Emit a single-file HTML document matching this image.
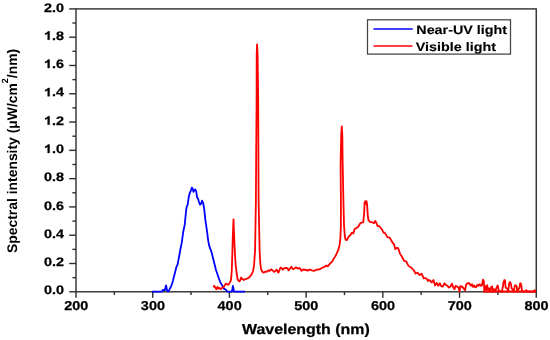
<!DOCTYPE html>
<html><head><meta charset="utf-8"><style>
html,body{margin:0;padding:0;background:#fff;width:550px;height:340px;overflow:hidden}
svg{display:block;will-change:transform}
text{font-family:"Liberation Sans",sans-serif;font-weight:bold;fill:#000;stroke:#000;stroke-width:0.25px;text-rendering:geometricPrecision}
.tl{font-size:12.8px}
.yl{font-size:12.3px}
.xt{font-size:14.4px}
.yt{font-size:13.9px;stroke-width:0}
.lg{font-size:12.3px;stroke-width:0.12px}
</style></head><body>
<svg width="550" height="340" viewBox="0 0 550 340">
<rect x="76.0" y="8.9" width="460.25" height="282.90000000000003" fill="none" stroke="#2e2e2e" stroke-width="1.4"/>
<line x1="76.00" y1="291.8" x2="76.00" y2="297.8" stroke="#2e2e2e" stroke-width="1.4"/>
<line x1="114.35" y1="291.8" x2="114.35" y2="295.1" stroke="#2e2e2e" stroke-width="1.4"/>
<line x1="152.71" y1="291.8" x2="152.71" y2="297.8" stroke="#2e2e2e" stroke-width="1.4"/>
<line x1="191.06" y1="291.8" x2="191.06" y2="295.1" stroke="#2e2e2e" stroke-width="1.4"/>
<line x1="229.42" y1="291.8" x2="229.42" y2="297.8" stroke="#2e2e2e" stroke-width="1.4"/>
<line x1="267.77" y1="291.8" x2="267.77" y2="295.1" stroke="#2e2e2e" stroke-width="1.4"/>
<line x1="306.12" y1="291.8" x2="306.12" y2="297.8" stroke="#2e2e2e" stroke-width="1.4"/>
<line x1="344.48" y1="291.8" x2="344.48" y2="295.1" stroke="#2e2e2e" stroke-width="1.4"/>
<line x1="382.83" y1="291.8" x2="382.83" y2="297.8" stroke="#2e2e2e" stroke-width="1.4"/>
<line x1="421.19" y1="291.8" x2="421.19" y2="295.1" stroke="#2e2e2e" stroke-width="1.4"/>
<line x1="459.54" y1="291.8" x2="459.54" y2="297.8" stroke="#2e2e2e" stroke-width="1.4"/>
<line x1="497.90" y1="291.8" x2="497.90" y2="295.1" stroke="#2e2e2e" stroke-width="1.4"/>
<line x1="536.25" y1="291.8" x2="536.25" y2="297.8" stroke="#2e2e2e" stroke-width="1.4"/>
<line x1="76.0" y1="291.80" x2="69.2" y2="291.80" stroke="#2e2e2e" stroke-width="1.4"/>
<line x1="76.0" y1="277.66" x2="72.4" y2="277.66" stroke="#2e2e2e" stroke-width="1.4"/>
<line x1="76.0" y1="263.51" x2="69.2" y2="263.51" stroke="#2e2e2e" stroke-width="1.4"/>
<line x1="76.0" y1="249.37" x2="72.4" y2="249.37" stroke="#2e2e2e" stroke-width="1.4"/>
<line x1="76.0" y1="235.22" x2="69.2" y2="235.22" stroke="#2e2e2e" stroke-width="1.4"/>
<line x1="76.0" y1="221.07" x2="72.4" y2="221.07" stroke="#2e2e2e" stroke-width="1.4"/>
<line x1="76.0" y1="206.93" x2="69.2" y2="206.93" stroke="#2e2e2e" stroke-width="1.4"/>
<line x1="76.0" y1="192.78" x2="72.4" y2="192.78" stroke="#2e2e2e" stroke-width="1.4"/>
<line x1="76.0" y1="178.64" x2="69.2" y2="178.64" stroke="#2e2e2e" stroke-width="1.4"/>
<line x1="76.0" y1="164.50" x2="72.4" y2="164.50" stroke="#2e2e2e" stroke-width="1.4"/>
<line x1="76.0" y1="150.35" x2="69.2" y2="150.35" stroke="#2e2e2e" stroke-width="1.4"/>
<line x1="76.0" y1="136.20" x2="72.4" y2="136.20" stroke="#2e2e2e" stroke-width="1.4"/>
<line x1="76.0" y1="122.06" x2="69.2" y2="122.06" stroke="#2e2e2e" stroke-width="1.4"/>
<line x1="76.0" y1="107.91" x2="72.4" y2="107.91" stroke="#2e2e2e" stroke-width="1.4"/>
<line x1="76.0" y1="93.77" x2="69.2" y2="93.77" stroke="#2e2e2e" stroke-width="1.4"/>
<line x1="76.0" y1="79.62" x2="72.4" y2="79.62" stroke="#2e2e2e" stroke-width="1.4"/>
<line x1="76.0" y1="65.48" x2="69.2" y2="65.48" stroke="#2e2e2e" stroke-width="1.4"/>
<line x1="76.0" y1="51.33" x2="72.4" y2="51.33" stroke="#2e2e2e" stroke-width="1.4"/>
<line x1="76.0" y1="37.19" x2="69.2" y2="37.19" stroke="#2e2e2e" stroke-width="1.4"/>
<line x1="76.0" y1="23.04" x2="72.4" y2="23.04" stroke="#2e2e2e" stroke-width="1.4"/>
<line x1="76.0" y1="8.90" x2="69.2" y2="8.90" stroke="#2e2e2e" stroke-width="1.4"/>
<text x="0" y="0" transform="translate(76.20,310.3) scale(1.13,1)" text-anchor="middle" class="tl">200</text>
<text x="0" y="0" transform="translate(152.91,310.3) scale(1.13,1)" text-anchor="middle" class="tl">300</text>
<text x="0" y="0" transform="translate(229.62,310.3) scale(1.13,1)" text-anchor="middle" class="tl">400</text>
<text x="0" y="0" transform="translate(306.32,310.3) scale(1.13,1)" text-anchor="middle" class="tl">500</text>
<text x="0" y="0" transform="translate(383.03,310.3) scale(1.13,1)" text-anchor="middle" class="tl">600</text>
<text x="0" y="0" transform="translate(459.74,310.3) scale(1.13,1)" text-anchor="middle" class="tl">700</text>
<text x="0" y="0" transform="translate(536.45,310.3) scale(1.13,1)" text-anchor="middle" class="tl">800</text>
<text x="0" y="0" transform="translate(64.0,294.40) scale(1.17,1)" text-anchor="end" class="yl">0.0</text>
<text x="0" y="0" transform="translate(64.0,266.11) scale(1.17,1)" text-anchor="end" class="yl">0.2</text>
<text x="0" y="0" transform="translate(64.0,237.82) scale(1.17,1)" text-anchor="end" class="yl">0.4</text>
<text x="0" y="0" transform="translate(64.0,209.53) scale(1.17,1)" text-anchor="end" class="yl">0.6</text>
<text x="0" y="0" transform="translate(64.0,181.24) scale(1.17,1)" text-anchor="end" class="yl">0.8</text>
<text x="0" y="0" transform="translate(64.0,152.95) scale(1.17,1)" text-anchor="end" class="yl">.0</text>
<path d="M759 0L478 0L478 1030C420 975 340 925 255 885C200 858 150 838 115 828L115 1075C210 1105 300 1160 380 1230C450 1290 500 1350 530 1409L759 1409Z" transform="translate(44.29,152.95) scale(0.007027,-0.006006)" fill="#000" stroke="#000" stroke-width="0.3" vector-effect="non-scaling-stroke"/>
<text x="0" y="0" transform="translate(64.0,124.66) scale(1.17,1)" text-anchor="end" class="yl">.2</text>
<path d="M759 0L478 0L478 1030C420 975 340 925 255 885C200 858 150 838 115 828L115 1075C210 1105 300 1160 380 1230C450 1290 500 1350 530 1409L759 1409Z" transform="translate(44.29,124.66) scale(0.007027,-0.006006)" fill="#000" stroke="#000" stroke-width="0.3" vector-effect="non-scaling-stroke"/>
<text x="0" y="0" transform="translate(64.0,96.37) scale(1.17,1)" text-anchor="end" class="yl">.4</text>
<path d="M759 0L478 0L478 1030C420 975 340 925 255 885C200 858 150 838 115 828L115 1075C210 1105 300 1160 380 1230C450 1290 500 1350 530 1409L759 1409Z" transform="translate(44.29,96.37) scale(0.007027,-0.006006)" fill="#000" stroke="#000" stroke-width="0.3" vector-effect="non-scaling-stroke"/>
<text x="0" y="0" transform="translate(64.0,68.08) scale(1.17,1)" text-anchor="end" class="yl">.6</text>
<path d="M759 0L478 0L478 1030C420 975 340 925 255 885C200 858 150 838 115 828L115 1075C210 1105 300 1160 380 1230C450 1290 500 1350 530 1409L759 1409Z" transform="translate(44.29,68.08) scale(0.007027,-0.006006)" fill="#000" stroke="#000" stroke-width="0.3" vector-effect="non-scaling-stroke"/>
<text x="0" y="0" transform="translate(64.0,39.79) scale(1.17,1)" text-anchor="end" class="yl">.8</text>
<path d="M759 0L478 0L478 1030C420 975 340 925 255 885C200 858 150 838 115 828L115 1075C210 1105 300 1160 380 1230C450 1290 500 1350 530 1409L759 1409Z" transform="translate(44.29,39.79) scale(0.007027,-0.006006)" fill="#000" stroke="#000" stroke-width="0.3" vector-effect="non-scaling-stroke"/>
<text x="0" y="0" transform="translate(64.0,11.50) scale(1.17,1)" text-anchor="end" class="yl">2.0</text>
<text x="0" y="0" transform="translate(305.9,334.3) scale(1.107,1)" text-anchor="middle" class="xt">Wavelength (nm)</text>
<text x="0" y="0" transform="translate(16.6,150.9) rotate(-90)" text-anchor="middle" class="yt">Spectral intensity (&#956;W/cm<tspan dy="-8.8" font-size="9">2</tspan><tspan dy="8.8">/nm)</tspan></text>
<polyline points="152.10,291.60 161.90,291.60 163.00,289.80 164.80,290.20 166.10,285.30 167.00,290.20 168.10,291.60 169.40,289.70 171.20,286.20 172.90,280.90 174.70,273.80 176.50,266.80 177.60,264.40 179.40,255.00 180.60,248.20 181.80,242.40 183.20,232.00 184.70,224.70 186.20,210.00 186.70,206.80 187.70,204.70 188.80,196.50 189.80,192.90 190.80,190.80 191.80,187.70 192.60,188.20 193.40,191.80 194.40,190.30 195.40,189.50 196.30,191.80 197.00,197.00 198.00,198.50 199.00,202.10 200.10,204.70 201.10,203.70 202.10,200.60 203.20,203.20 204.20,208.80 205.30,219.40 206.50,227.60 207.30,233.50 208.20,240.60 209.20,245.90 210.60,249.50 211.60,252.40 213.80,261.20 216.00,270.00 218.40,277.00 220.40,282.50 222.30,285.60 223.80,288.60 225.60,289.50 227.10,291.60 229.30,291.60 231.80,291.60 232.40,289.00 232.90,286.00 233.50,289.00 234.00,291.60 245.00,291.60" fill="none" stroke="#0000ff" stroke-width="1.8" stroke-linejoin="round"/>
<line x1="483.5" y1="291.4" x2="536" y2="291.4" stroke="#ff0000" stroke-width="2"/>
<polyline points="213.50,287.30 214.20,285.80 215.30,287.60 216.40,289.20 217.50,286.90 218.60,288.80 219.70,288.00 220.80,289.10 221.90,288.00 223.00,287.60 224.10,286.50 225.20,284.30 226.30,283.60 227.40,284.70 228.50,284.70 229.60,282.90 230.70,281.00 231.30,277.00 231.80,270.00 232.20,258.00 232.70,240.00 233.50,219.30 234.30,240.00 235.00,255.00 235.60,264.00 236.60,273.00 237.70,279.60 239.30,281.40 240.30,280.10 241.10,277.50 242.40,279.10 243.90,280.10 245.40,279.10 247.50,278.50 249.60,277.00 251.60,274.40 252.90,271.50 254.10,265.30 255.10,250.00 255.90,200.00 256.20,150.00 256.60,100.00 256.70,55.00 257.05,44.30 257.60,55.00 258.20,100.00 258.40,150.00 258.60,200.00 259.60,250.00 260.20,262.00 260.90,268.50 261.60,270.50 262.40,271.90 263.80,272.60 265.30,271.50 266.80,271.90 268.20,270.40 269.70,270.80 271.20,269.30 272.60,270.40 274.10,271.90 275.60,270.80 276.70,269.70 277.80,271.90 278.50,272.60 279.60,269.70 280.70,267.50 281.80,268.20 282.90,269.70 284.40,268.20 285.90,267.90 287.40,268.20 288.80,270.40 289.90,268.60 291.40,266.80 292.50,268.60 293.60,269.10 295.90,267.30 298.20,268.60 300.00,268.20 301.40,270.90 303.20,269.50 305.90,270.00 308.20,270.50 309.50,269.50 311.80,270.30 314.10,270.90 316.40,269.70 319.10,269.50 320.90,268.60 322.70,267.50 324.50,266.80 326.40,265.50 327.70,266.40 330.00,263.60 332.30,261.40 333.50,259.10 336.20,254.70 338.50,249.40 339.60,245.00 340.40,238.00 340.90,225.00 340.90,200.00 340.60,165.00 341.20,135.00 341.75,126.30 342.30,135.00 342.70,165.00 343.40,200.00 344.00,225.00 344.80,236.00 345.60,239.70 346.90,240.10 348.50,237.00 349.50,235.60 350.30,235.30 352.00,232.60 353.30,233.50 354.70,229.10 356.50,227.90 358.20,226.80 360.30,223.20 361.50,222.60 363.20,222.30 364.20,212.60 364.60,202.40 365.40,201.20 365.90,203.80 366.50,201.20 367.10,204.40 367.70,215.00 368.50,220.30 370.00,221.80 372.40,222.30 374.10,223.20 375.30,220.90 376.50,223.20 377.60,226.20 379.40,226.20 381.20,228.50 382.40,230.30 383.50,232.60 384.70,232.60 386.50,235.60 387.60,237.40 389.40,237.40 391.20,240.30 392.90,243.20 394.10,244.40 395.30,249.20 396.50,247.90 398.20,248.20 400.00,253.60 402.10,257.00 404.10,260.80 406.20,261.30 408.20,265.30 409.30,266.50 411.30,267.50 413.00,269.50 414.40,271.10 415.50,273.50 417.50,272.70 419.60,275.10 421.60,273.70 423.70,278.40 425.30,278.00 426.80,279.00 428.00,281.00 429.10,279.90 430.20,280.70 431.70,282.50 433.50,279.90 435.00,285.40 436.80,282.90 438.30,285.80 439.80,283.20 441.20,286.20 442.70,286.50 444.50,283.20 446.00,285.10 447.50,285.80 449.00,287.60 450.40,286.50 451.90,283.60 453.40,287.60 454.50,289.10 455.60,285.80 457.00,286.50 458.50,287.60 459.60,291.60 460.40,286.20 461.80,286.50 463.30,288.00 465.10,290.40 466.10,284.70 467.20,283.60 468.70,282.90 469.80,284.00 470.90,285.80 472.00,284.30 473.10,286.90 474.20,285.40 475.30,287.30 476.40,286.90 477.50,284.70 478.60,285.80 479.70,284.30 480.80,285.80 481.90,285.40 483.00,279.60 483.80,281.00 484.30,291.60 485.20,286.20 486.30,289.90 487.10,285.10 488.20,289.90 489.30,288.40 490.00,291.60 491.10,287.30 492.20,286.50 492.90,291.60 494.00,289.10 495.10,291.60 496.30,288.40 497.70,285.40 498.80,290.60 500.30,291.60 501.80,291.60 502.90,286.50 503.60,282.00 504.40,280.00 505.00,280.50 505.60,287.50 506.60,288.40 507.50,288.70 508.20,291.60 509.10,283.60 510.10,282.00 511.00,284.30 511.70,288.70 512.60,289.00 513.60,291.60 514.90,285.60 515.80,285.20 516.80,286.80 517.10,291.60 518.40,289.00 519.30,288.40 520.00,283.60 520.60,283.30 521.40,285.60 521.90,290.30 522.80,291.60 525.40,291.60 526.30,290.10 527.30,291.60 533.70,291.60 534.60,290.10 535.60,291.60 536.00,291.60" fill="none" stroke="#ff0000" stroke-width="1.8" stroke-linejoin="round"/>
<rect x="367.5" y="19.8" width="143" height="34.3" fill="#fff" stroke="#444" stroke-width="1.25"/>
<line x1="373.5" y1="28.95" x2="412.7" y2="28.95" stroke="#0000ff" stroke-width="1.45"/>
<line x1="373.5" y1="45.9" x2="412.5" y2="45.9" stroke="#ff0000" stroke-width="1.45"/>
<text x="0" y="0" transform="translate(416.3,33.5) scale(1.165,1)" class="lg">Near-UV light</text>
<text x="0" y="0" transform="translate(415.8,51.0) scale(1.165,1)" class="lg">Visible light</text>
</svg>
</body></html>
